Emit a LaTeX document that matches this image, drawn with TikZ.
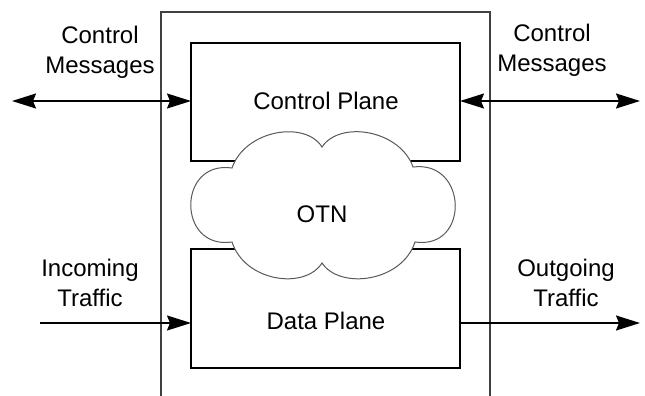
\documentclass[tikz,border=0pt]{standalone}
\usepackage{fontspec}
\setmainfont{Liberation Sans}
\usetikzlibrary{arrows.meta}
\begin{document}
\begin{tikzpicture}[x=1pt,y=-1pt,
  >={Stealth[length=24pt,width=15pt,inset=3pt]},
  lbl/.style={font=\fontsize{24}{30}\selectfont, align=center, inner sep=0pt},
  plane/.style={draw=black, line width=1.2pt, fill=white, inner sep=0pt,
    outer sep=0pt, minimum width=269pt, anchor=north west},
  outerframe/.style={draw=black!75, line width=2.5pt, inner sep=0pt,
    outer sep=0pt, anchor=north west},
  flow/.style={draw=black, line width=1.5pt},
  cloudline/.style={draw=black!65, line width=1pt, fill=white},
]
\path[use as bounding box, clip] (0,0) rectangle (645,396);

% network element frame (open towards the bottom)
\node[outerframe, minimum width=329pt, minimum height=420pt] (sys) at (161,12) {};

% free ends of the connectors
\coordinate (cmLend) at (12,101);
\coordinate (cmRend) at (640,101);
\coordinate (inStart) at (40,323);
\coordinate (outEnd) at (640,323);

% planes
\node[plane, minimum height=118pt] (cp) at (191,43) {};
\node[plane, minimum height=119pt] (dp) at (191,249) {};

% connectors
\draw[flow,<->] (cmLend) -- (cmLend -| cp.west);
\draw[flow,<->] (cp.east |- cmRend) -- (cmRend);
\draw[flow,->] (inStart) -- (inStart -| dp.west);
\draw[flow,->] (dp.east |- outEnd) -- (outEnd);

% OTN cloud
\draw[cloudline] (232,168)
  .. controls (245,130) and (305,120) .. (322,147)
  .. controls (340,120) and (400,130) .. (413,167)
  .. controls (468,160) and (470,250) .. (415,242)
  .. controls (402,282) and (340,290) .. (322,263)
  .. controls (305,290) and (245,282) .. (232,242)
  .. controls (177,250) and (177,160) .. (232,168) -- cycle;

% labels
\node[lbl, anchor=base] (cpText) at (326,109) {Control Plane};
\node[lbl, anchor=base] (otn) at (322,222) {OTN};
\node[lbl, anchor=base] (dpText) at (326,329) {Data Plane};
\node[lbl] (cmLeft) at (100,52) {Control\\Messages};
\node[lbl] (cmRight) at (552,50.5) {Control\\Messages};
\node[lbl] (inTxt) at (90,283) {Incoming\\Traffic};
\node[lbl] (outTxt) at (566,283) {Outgoing\\Traffic};
\end{tikzpicture}
\end{document}
